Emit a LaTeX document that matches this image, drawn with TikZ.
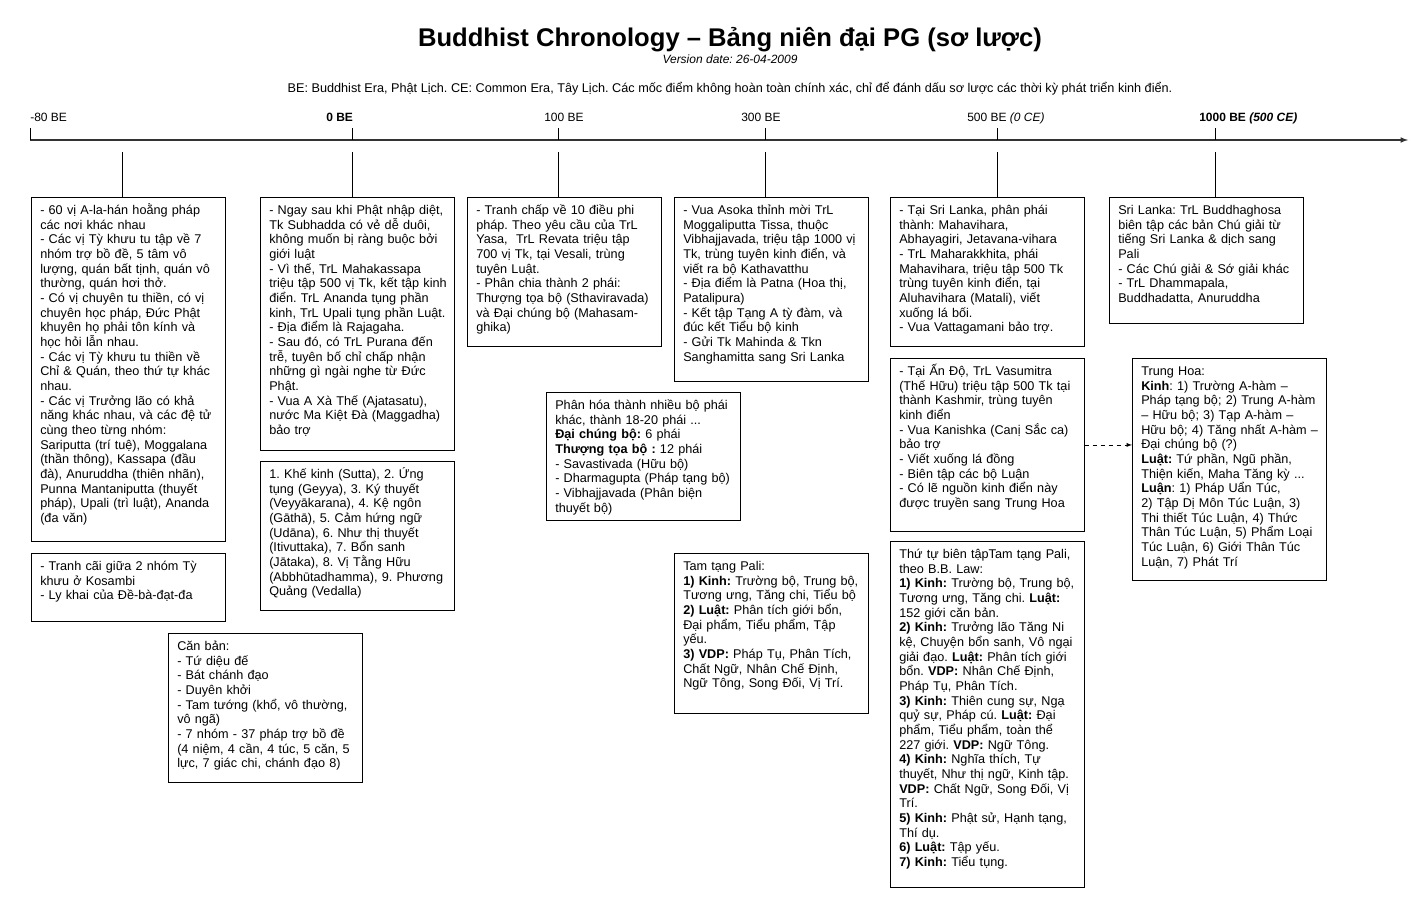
\documentclass[tikz,border=0pt]{standalone}
\usepackage{fontspec}
\setmainfont{Liberation Sans}
\usetikzlibrary{arrows}
\frenchspacing

\begin{document}
\begin{tikzpicture}[>=latex,x=0.75pt,y=-0.75pt,
  card/.style={draw,anchor=north west,align=left,text width=145.5pt,
    inner xsep=0pt,inner ysep=4pt,text height=9pt,text depth=#1,
    font=\fontsize{9.5}{11}\selectfont,
    execute at begin node={\leftskip=6.75pt}},
  era/.style={anchor=base west,inner sep=0pt,font=\fontsize{9}{11}\selectfont}]
\useasboundingbox (0,0) rectangle (1423,900);
% heading
\node[anchor=base,font=\bfseries\fontsize{19.2}{23}\selectfont] (title) at (730,46)
  {Buddhist Chronology – Bảng niên đại PG (sơ lược)};
\node[anchor=base,font=\itshape\fontsize{9}{11}\selectfont] (ver) at (730,63)
  {Version date: 26-04-2009};
\node[anchor=base,font=\fontsize{9.5}{11}\selectfont] (note) at (730,92)
  {BE: Buddhist Era, Phật Lịch. CE: Common Era, Tây Lịch. Các mốc điểm không hoàn toàn chính xác, chỉ để đánh dấu sơ lược các thời kỳ phát triển kinh điển.};
% time axis
\coordinate (t80) at (30,140);
\coordinate (t0) at (352,140);
\coordinate (t100) at (558,140);
\coordinate (t300) at (765,140);
\coordinate (t500) at (997,140);
\coordinate (t1000) at (1215,140);
\coordinate (tend) at (1408,140);
\draw[->,line width=0.9pt,black!80] (t80) -- (tend);
\foreach \t in {t80,t0,t100,t300,t500,t1000} \draw (\t) -- ++(0,-12);
\node[era] (l80) at (30,121) {-80 BE};
\node[era,font=\bfseries\fontsize{9}{11}\selectfont] (l0) at (326,121) {0 BE};
\node[era] (l100) at (544,121) {100 BE};
\node[era] (l300) at (741,121) {300 BE};
\node[era] (l500) at (967,121) {500 BE \textit{(0 CE)}};
\node[era,font=\bfseries\fontsize{9}{11}\selectfont] (l1000) at (1199,121) {1000 BE \textit{(500 CE)}};
% -80 BE
\node[card=241pt] (be80) at (31,197) {- 60 vị A-la-hán hoằng pháp\\
các nơi khác nhau\\
- Các vị Tỳ khưu tu tập về 7\\
nhóm trợ bồ đề, 5 tâm vô\\
lượng, quán bất tịnh, quán vô\\
thường, quán hơi thở.\\
- Có vị chuyên tu thiền, có vị\\
chuyên học pháp, Đức Phật\\
khuyên họ phải tôn kính và\\
học hỏi lẫn nhau.\\
- Các vị Tỳ khưu tu thiền về\\
Chỉ \& Quán, theo thứ tự khác\\
nhau.\\
- Các vị Trưởng lão có khả\\
năng khác nhau, và các đệ tử\\
cùng theo từng nhóm:\\
Sariputta (trí tuệ), Moggalana\\
(thần thông), Kassapa (đầu\\
đà), Anuruddha (thiên nhãn),\\
Punna Mantaniputta (thuyết\\
pháp), Upali (trì luật), Ananda\\
(đa văn)};
\node[card=34pt] (be80b) at (31,553) {- Tranh cãi giữa 2 nhóm Tỳ\\
khưu ở Kosambi\\
- Ly khai của Đề-bà-đạt-đa};
% 0 BE
\node[card=173pt] (be0) at (260,197) {- Ngay sau khi Phật nhập diệt,\\
Tk Subhadda có vẻ dễ duôi,\\
không muốn bị ràng buộc bởi\\
giới luật\\
- Vì thế, TrL Mahakassapa\\
triệu tập 500 vị Tk, kết tập kinh\\
điển. TrL Ananda tụng phần\\
kinh, TrL Upali tụng phần Luật.\\
- Địa điểm là Rajagaha.\\
- Sau đó, có TrL Purana đến\\
trễ, tuyên bố chỉ chấp nhận\\
những gì ngài nghe từ Đức\\
Phật.\\
- Vua A Xà Thế (Ajatasatu),\\
nước Ma Kiệt Đà (Maggadha)\\
bảo trợ};
\node[card=95pt] (be0b) at (260,461) {1. Khế kinh (Sutta), 2. Ứng\\
tụng (Geyya), 3. Ký thuyết\\
(Veyyākarana), 4. Kệ ngôn\\
(Gāthā), 5. Cảm hứng ngữ\\
(Udāna), 6. Như thị thuyết\\
(Itivuttaka), 7. Bổn sanh\\
(Jātaka), 8. Vị Tằng Hữu\\
(Abbhūtadhamma), 9. Phương\\
Quảng (Vedalla)};
\node[card=95pt] (be0c) at (168,633) {Căn bản:\\
- Tứ diệu đế\\
- Bát chánh đạo\\
- Duyên khởi\\
- Tam tướng (khổ, vô thường,\\
vô ngã)\\
- 7 nhóm - 37 pháp trợ bồ đề\\
(4 niệm, 4 cần, 4 túc, 5 căn, 5\\
lực, 7 giác chi, chánh đạo 8)};
% 100 BE
\node[card=95pt] (be100) at (467,197) {- Tranh chấp về 10 điều phi\\
pháp. Theo yêu cầu của TrL\\
Yasa,\ \ TrL Revata triệu tập\\
700 vị Tk, tại Vesali, trùng\\
tuyên Luật.\\
- Phân chia thành 2 phái:\\
Thượng tọa bộ (Sthaviravada)\\
và Đại chúng bộ (Mahasam-\\
ghika)};
\node[card=79pt] (be100b) at (546,392) {Phân hóa thành nhiều bộ phái\\
khác, thành 18-20 phái ...\\
\textbf{Đại chúng bộ:} 6 phái\\
\textbf{Thượng tọa bộ :} 12 phái\\
- Savastivada (Hữu bộ)\\
- Dharmagupta (Pháp tạng bộ)\\
- Vibhajjavada (Phân biện\\
thuyết bộ)};
% 300 BE
\node[card=121pt] (be300) at (674,197) {- Vua Asoka thỉnh mời TrL\\
Moggaliputta Tissa, thuộc\\
Vibhajjavada, triệu tập 1000 vị\\
Tk, trùng tuyên kinh điển, và\\
viết ra bộ Kathavatthu\\
- Địa điểm là Patna (Hoa thị,\\
Patalipura)\\
- Kết tập Tạng A tỳ đàm, và\\
đúc kết Tiểu bộ kinh\\
- Gửi Tk Mahinda \& Tkn\\
Sanghamitta sang Sri Lanka};
\node[card=103pt] (be300b) at (674,553) {Tam tạng Pali:\\
\textbf{1) Kinh:} Trường bộ, Trung bộ,\\
Tương ưng, Tăng chi, Tiểu bộ\\
\textbf{2) Luật:} Phân tích giới bổn,\\
Đại phẩm, Tiểu phẩm, Tập\\
yếu.\\
\textbf{3) VDP:} Pháp Tụ, Phân Tích,\\
Chất Ngữ, Nhân Chế Định,\\
Ngữ Tông, Song Đối, Vị Trí.};
% 500 BE
\node[card=95pt] (be500) at (890,197) {- Tại Sri Lanka, phân phái\\
thành: Mahavihara,\\
Abhayagiri, Jetavana-vihara\\
- TrL Maharakkhita, phái\\
Mahavihara, triệu tập 500 Tk\\
trùng tuyên kinh điển, tại\\
Aluhavihara (Matali), viết\\
xuống lá bối.\\
- Vua Vattagamani bảo trợ.};
\node[card=113pt] (be500b) at (890,358) {- Tại Ấn Độ, TrL Vasumitra\\
(Thế Hữu) triệu tập 500 Tk tại\\
thành Kashmir, trùng tuyên\\
kinh điển\\
- Vua Kanishka (Canị Sắc ca)\\
bảo trợ\\
- Viết xuống lá đồng\\
- Biên tập các bộ Luận\\
- Có lẽ nguồn kinh điển này\\
được truyền sang Trung Hoa};
\node[card=242.5pt] (be500c) at (890,541) {Thứ tự biên tậpTam tạng Pali,\\
theo B.B. Law:\\
\textbf{1) Kinh:} Trường bộ, Trung bộ,\\
Tương ưng, Tăng chi. \textbf{Luật:}\\
152 giới căn bản.\\
\textbf{2) Kinh:} Trưởng lão Tăng Ni\\
kệ, Chuyện bổn sanh, Vô ngại\\
giải đạo. \textbf{Luật:} Phân tích giới\\
bổn. \textbf{VDP:} Nhân Chế Định,\\
Pháp Tụ, Phân Tích.\\
\textbf{3) Kinh:} Thiên cung sự, Ngạ\\
quỷ sự, Pháp cú. \textbf{Luật:} Đại\\
phẩm, Tiểu phẩm, toàn thể\\
227 giới. \textbf{VDP:} Ngữ Tông.\\
\textbf{4) Kinh:} Nghĩa thích, Tự\\
thuyết, Như thị ngữ, Kinh tập.\\
\textbf{VDP:} Chất Ngữ, Song Đối, Vị\\
Trí.\\
\textbf{5) Kinh:} Phật sử, Hạnh tạng,\\
Thí dụ.\\
\textbf{6) Luật:} Tập yếu.\\
\textbf{7) Kinh:} Tiểu tụng.};
% 1000 BE
\node[card=77.5pt] (be1000) at (1109,197) {Sri Lanka: TrL Buddhaghosa\\
biên tập các bản Chú giải từ\\
tiếng Sri Lanka \& dịch sang\\
Pali\\
- Các Chú giải \& Sớ giải khác\\
- TrL Dhammapala,\\
Buddhadatta, Anuruddha};
\node[card=149.5pt] (th) at (1132,358) {Trung Hoa:\\
\textbf{Kinh}: 1) Trường A-hàm –\\
Pháp tạng bộ; 2) Trung A-hàm\\
– Hữu bộ; 3) Tạp A-hàm –\\
Hữu bộ; 4) Tăng nhất A-hàm –\\
Đại chúng bộ (?)\\
\textbf{Luật:} Tứ phần, Ngũ phần,\\
Thiện kiến, Maha Tăng kỳ ...\\
\textbf{Luận}: 1) Pháp Uẩn Túc,\\
2) Tập Dị Môn Túc Luận, 3)\\
Thi thiết Túc Luận, 4) Thức\\
Thân Túc Luận, 5) Phẩm Loại\\
Túc Luận, 6) Giới Thân Túc\\
Luận, 7) Phát Trí};
% drop lines
\coordinate (c80) at (122,152);
\draw (c80) -- (c80 |- be80.north);
\foreach \t/\b in {t0/be0,t100/be100,t300/be300,t500/be500,t1000/be1000}
  \draw (\t) ++(0,12) -- (\t |- \b.north);
\draw[->,dashed] (be500b.east) -- (be500b.east -| th.west);
\end{tikzpicture}
\end{document}
